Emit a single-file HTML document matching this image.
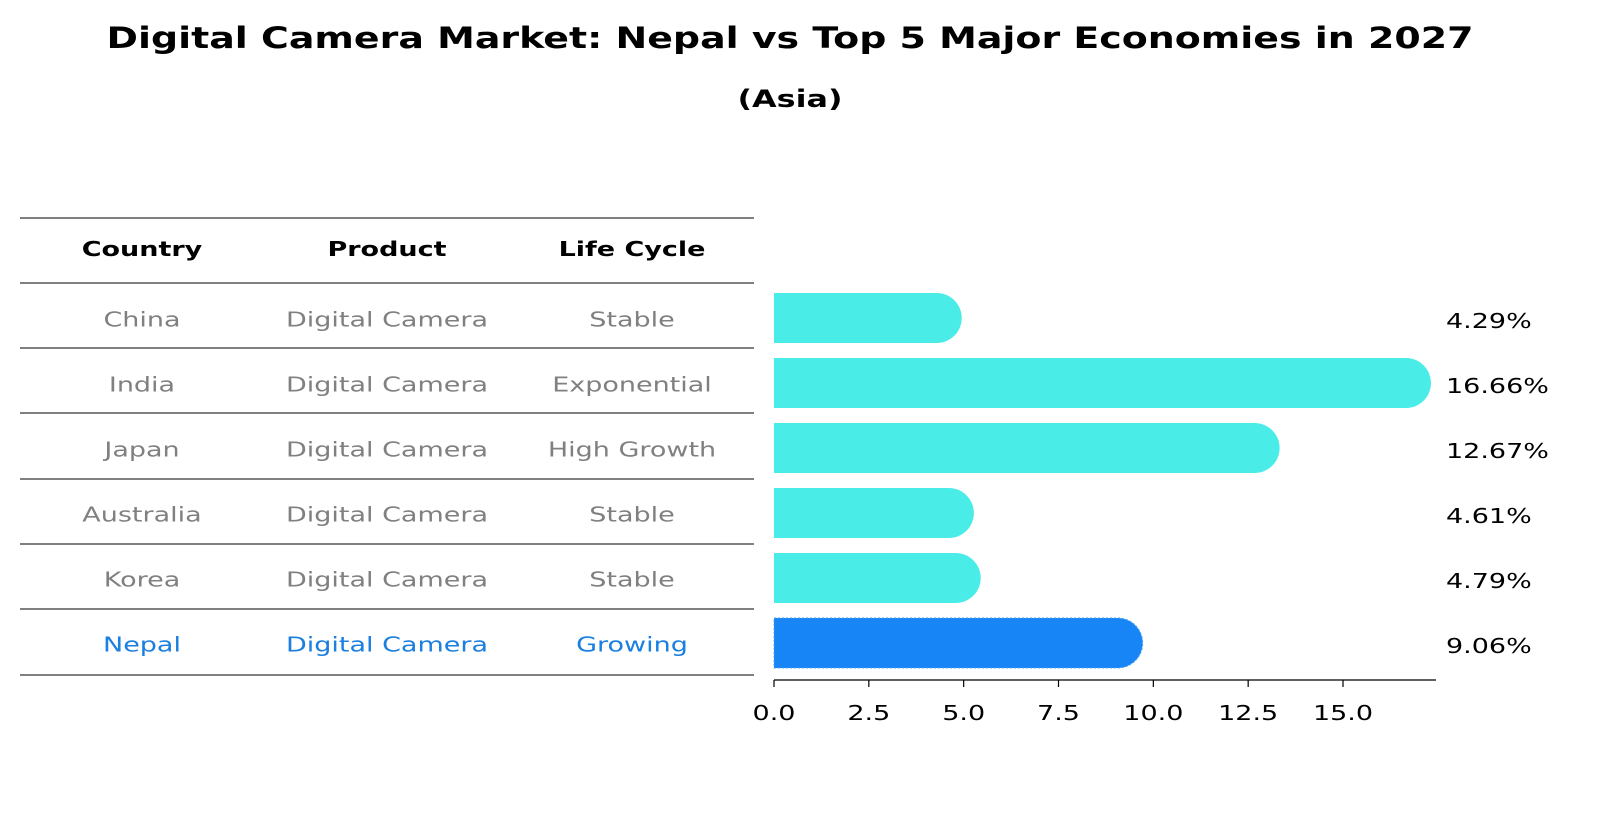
<!DOCTYPE html>
<html><head><meta charset="utf-8"><style>
body{margin:0;background:#fff;font-family:"DejaVu Sans","Liberation Sans",sans-serif;}
svg text{font-family:"DejaVu Sans","Liberation Sans",sans-serif;}
</style></head><body>
<svg id="c" width="1604" height="823" xmlns="http://www.w3.org/2000/svg">
<text x="790" y="48" text-anchor="middle" font-size="29" font-weight="bold" textLength="1367" lengthAdjust="spacingAndGlyphs">Digital Camera Market: Nepal vs Top 5 Major Economies in 2027</text>
<text x="790" y="107" text-anchor="middle" font-size="24" font-weight="bold" textLength="105" lengthAdjust="spacingAndGlyphs">(Asia)</text>
<g id="tbl"></g>
<g id="bars"></g>
</svg>
<script>
const countries=["China","India","Japan","Australia","Korea","Nepal"];
const products=["Digital Camera","Digital Camera","Digital Camera","Digital Camera","Digital Camera","Digital Camera"];
const cycles=["Stable","Exponential","High Growth","Stable","Stable","Growing"];
const values=[4.29,16.66,12.67,4.61,4.79,9.06];
const ticks=[0,2.5,5,7.5,10,12.5,15];
const NS="http://www.w3.org/2000/svg";
const SX=1.35;
function mk(t,a,p,txt){const e=document.createElementNS(NS,t);for(const k in a)e.setAttribute(k,a[k]);if(txt!==undefined)e.textContent=txt;p.appendChild(e);return e;}
function stretch(e,x){e.setAttribute('transform',`matrix(${SX},0,0,1,${x*(1-SX)},0)`);}
const tbl=document.getElementById('tbl'),bars=document.getElementById('bars');
const x0=774,sx=(1343-774)/15,rowY=i=>318+i*65,h=50,r=25;
const xs=v=>x0+v*sx;
const lines=[218,283,348,413,479,544,609,675];
lines.forEach((y,i)=>{const l=mk('line',{x1:20,x2:754,y1:y,y2:y,stroke:'#000','stroke-width':1},tbl);
});
const cx=[142,387,632];
["Country","Product","Life Cycle"].forEach((s,i)=>{const t=mk('text',{x:cx[i],y:256,'text-anchor':'middle','font-size':20,'font-weight':'bold'},tbl,s);stretch(t,cx[i]);
});
countries.forEach((c,i)=>{const col=c==="Nepal"?'#1a7fe0':'#808080';
[c,products[i],cycles[i]].forEach((s,j)=>{const t=mk('text',{x:cx[j],y:rowY(i)+3,'text-anchor':'middle','font-size':20,fill:col,'dominant-baseline':'middle'},tbl,s);stretch(t,cx[j]);
});});
values.forEach((v,i)=>{const w=xs(v)-x0,y=rowY(i)-h/2;const nep=countries[i]==="Nepal";
const p=mk('path',{d:`M${x0},${y} h${w} a${r},${r} 0 0 1 0,${h} h${-w} z`,fill:nep?'#1785f5':'#4aece8',stroke:nep?'#4aa0f5':'none','stroke-dasharray':nep?'2,2':'none'},bars);

const t=mk('text',{x:1446,y:rowY(i)+10,'font-size':20},bars,v.toFixed(2)+'%');stretch(t,1446);
});
const ax=mk('line',{x1:x0,x2:1436,y1:680,y2:680,stroke:'#000','stroke-width':1.2},bars);

ticks.forEach(v=>{const tk=mk('line',{x1:xs(v),x2:xs(v),y1:680,y2:687,stroke:'#000','stroke-width':1.2},bars);

const t=mk('text',{x:xs(v),y:720,'text-anchor':'middle','font-size':20},bars,v.toFixed(1));stretch(t,xs(v));
});
</script>
</body></html>
